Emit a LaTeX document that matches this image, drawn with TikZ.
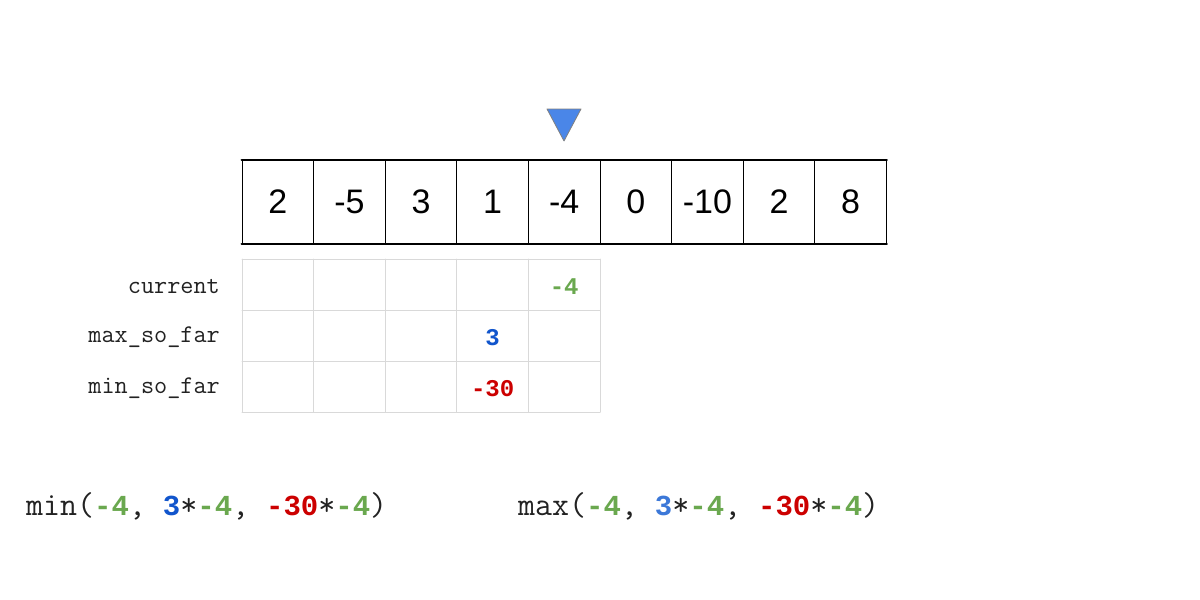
\documentclass[tikz,border=0pt]{standalone}
\usepackage{fontspec}
\setmainfont{Liberation Sans}
\newfontfamily\boldmono{Liberation Mono}
\usepackage{tikz}
\usetikzlibrary{positioning}
\definecolor{curgreen}{HTML}{6AA84F}
\definecolor{maxblue}{HTML}{1155CC}
\definecolor{maxlight}{HTML}{3C78D8}
\definecolor{minred}{HTML}{CC0000}
\definecolor{ptrblue}{HTML}{4A86E8}
\definecolor{gridgray}{HTML}{D9D9D9}
\definecolor{codegray}{HTML}{222222}
\newcommand{\hl}[2]{{\boldmono\bfseries\fontsize{29}{34}\selectfont\color{#1}#2}}
\tikzset{cell/.style={draw, line width=1pt, minimum width=71.6pt, minimum height=83pt, inner sep=0pt, font=\fontsize{34}{40}\selectfont}}
\tikzset{rowlabel/.style={inner sep=0pt, text=codegray, anchor=base east, font=\ttfamily\fontsize{25.5}{30}\selectfont}}
\tikzset{rowval/.style={inner sep=0pt, anchor=base, font=\boldmono\bfseries\fontsize{24}{28}\selectfont}}
\tikzset{formula/.style={inner sep=0pt, text=codegray, anchor=base west, font=\ttfamily\fontsize{33}{38}\selectfont}}

\begin{document}
\begin{tikzpicture}[line cap=round,line join=round,x=1pt,y=-1pt]
\useasboundingbox (0,0) rectangle (1200,600);

% pointer
\draw[fill=ptrblue, draw=gray, line width=0.8pt]
 (547,109) -- (581,109) -- (564,141) -- cycle;

% array
\draw[]
 (277.8,201.5) node[cell](c1) {2}
 (349.4,201.5) node[cell](c2) {-5}
 (421.0,201.5) node[cell](c3) {3}
 (492.6,201.5) node[cell](c4) {1}
 (564.2,201.5) node[cell](c5) {-4}
 (635.8,201.5) node[cell](c6) {0}
 (707.4,201.5) node[cell](c7) {-10}
 (779.0,201.5) node[cell](c8) {2}
 (850.6,201.5) node[cell](c9) {8};
\draw[line width=2pt]
 (c1.north west) -- (c9.north east)
 (c1.south west) -- (c9.south east);

% state table
\draw[gridgray, line width=1pt]
 (242,259) -- (600,259)
 (242,310) -- (600,310)
 (242,361) -- (600,361)
 (242,412) -- (600,412)
 (242,259) -- (242,412)
 (313.6,259) -- (313.6,412)
 (385.2,259) -- (385.2,412)
 (456.8,259) -- (456.8,412)
 (528.4,259) -- (528.4,412)
 (600,259) -- (600,412);
\draw[]
 (220,293) node[rowlabel](cur) {current}
 (220,342) node[rowlabel](maxsf) {max\_so\_far}
 (220,393) node[rowlabel](minsf) {min\_so\_far};
\draw[]
 (564.2,294) node[rowval, text=curgreen](curv) {-4}
 (492.6,345) node[rowval, text=maxblue](maxv) {3}
 (492.6,396) node[rowval, text=minred](minv) {-30};

% candidates
\node[formula] (fmin) at (26,515) {min(\hl{curgreen}{-4}, \hl{maxblue}{3}*\hl{curgreen}{-4}, \hl{minred}{-30}*\hl{curgreen}{-4})};
\node[formula] (fmax) at (518,515) {max(\hl{curgreen}{-4}, \hl{maxlight}{3}*\hl{curgreen}{-4}, \hl{minred}{-30}*\hl{curgreen}{-4})};

\end{tikzpicture}
\end{document}
